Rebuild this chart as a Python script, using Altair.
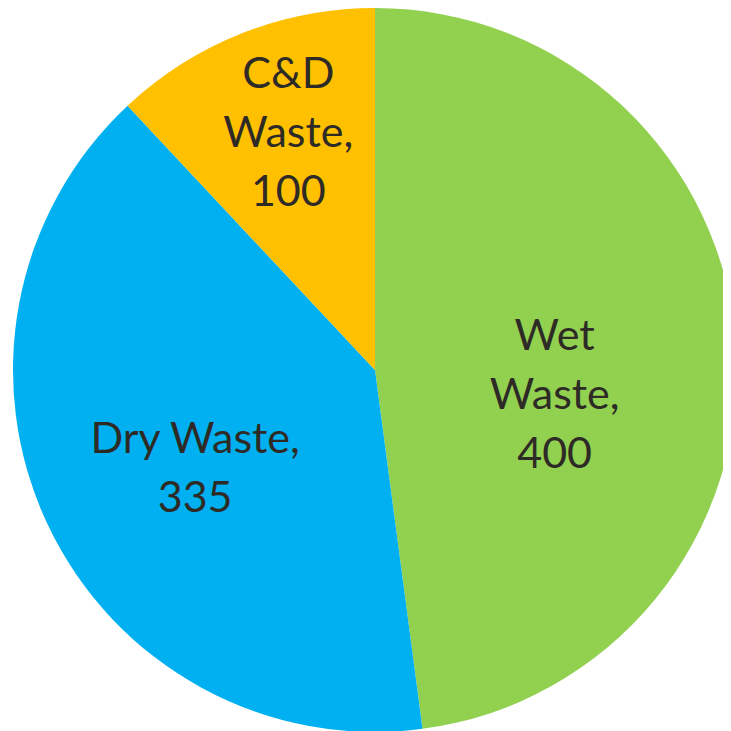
import altair as alt
import pandas as pd

categories = ["Wet Waste", "Dry Waste", "C&D Waste"]
values = [400, 335, 100]
labels = ["Wet\nWaste,\n400", "Dry Waste,\n335", "C&D\nWaste,\n100"]
order = [1, 2, 3]
colors = ["#92D050", "#00B0F0", "#FFC000"]

df = pd.DataFrame({"cat": categories, "val": values, "label": labels, "ord": order})

base = alt.Chart(df).encode(
    theta=alt.Theta("val:Q", stack=True),
    order=alt.Order("ord:Q"),
    x=alt.value(367),
    y=alt.value(362),
)

pie = base.mark_arc(outerRadius=362, stroke=None).encode(
    color=alt.Color("cat:N", scale=alt.Scale(domain=categories, range=colors), legend=None)
)

def label_layer(cat, r, dx, dy):
    return base.mark_text(
        radius=r, dx=dx, dy=dy, font="Lato", fontSize=43, color="#2E2B26",
        lineBreak="\n", lineHeight=59, align="center", baseline="middle",
    ).encode(
        text=alt.condition(alt.datum.cat == cat, "label:N", alt.value(""))
    )

chart = alt.layer(
    pie,
    label_layer("Wet Waste", 180, 0, -21),
    label_layer("Dry Waste", 199, 0, -15),
    label_layer("C&D Waste", 255, 7, -58),
).properties(width=715, height=723, padding=0, autosize="none").configure_view(stroke=None)

chart.save("out.html", embed_options={"renderer": "svg", "actions": False})
